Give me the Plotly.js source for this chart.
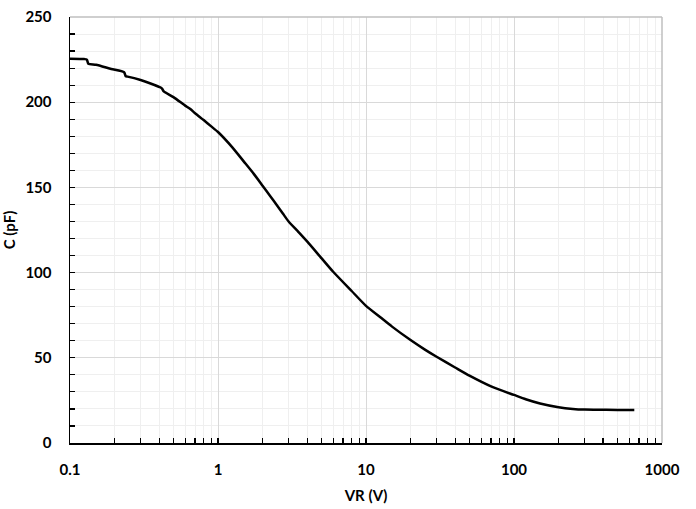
<!DOCTYPE html>
<html>
<head>
<meta charset="utf-8">
<script src="https://cdn.plot.ly/plotly-3.0.1.min.js"></script>
<style>html,body{margin:0;padding:0;background:#fff}#chart{width:696px;height:509px}</style>
</head>
<body>
<div id="chart"></div>
<script>
// Reverse voltage VR (V)
const vr = [0.1, 0.125, 0.13, 0.133, 0.15, 0.19, 0.232, 0.238, 0.245, 0.3, 0.35, 0.41, 0.42, 0.43, 0.5, 0.6, 0.65, 0.7, 0.8, 0.9, 1.0, 1.25, 1.5, 1.75, 2.0, 2.25, 2.5, 2.75, 3.0, 3.5, 4.0, 5.0, 6.0, 8.0, 10, 12.5, 15, 20, 25, 30, 40, 50, 70, 100, 120, 150, 200, 250, 300, 350, 500, 650];
// Capacitance C (pF)
const cap = [225.5, 225.3, 225.0, 222.6, 222.0, 219.5, 217.6, 215.2, 215.0, 213.0, 211.0, 208.6, 207.8, 206.3, 203.0, 198.0, 196.0, 193.5, 189.5, 185.8, 182.5, 173.5, 165.0, 157.8, 151.0, 145.0, 139.5, 134.5, 130.0, 123.8, 118.3, 108.5, 100.5, 89.2, 80.5, 73.8, 68.3, 60.4, 54.8, 50.6, 44.3, 39.5, 33.2, 28.2, 25.7, 23.2, 21.0, 20.0, 19.6, 19.5, 19.4, 19.4];

// Axis tick labels
const xTickVals = [0.1, 1, 10, 100, 1000];
const xTickText = ['0.1', '1', '10', '100', '1000'];
const xMinorVals = [];
for (const d of [0.1, 1, 10, 100]) for (let k = 2; k <= 9; k++) xMinorVals.push(+(d * k).toPrecision(3));

const xTitle = 'VR (V)';
const yTitle = 'C (pF)';

const tickFont = {family: 'Lato, "Open Sans", sans-serif', size: 15, color: '#000', weight: 'bold'};

Plotly.newPlot('chart', [{
  x: vr, y: cap, type: 'scatter', mode: 'lines',
  line: {color: '#000', width: 2.5, shape: 'spline', smoothing: 0.6},
  hoverinfo: 'skip'
}], {
  width: 696, height: 509,
  margin: {l: 70, r: 34, t: 17, b: 66},
  paper_bgcolor: '#fff', plot_bgcolor: '#fff',
  showlegend: false,
  xaxis: {
    type: 'log', range: [-1, 3],
    tickmode: 'array', tickvals: xTickVals, ticktext: xTickText,
    showgrid: true, gridcolor: '#d9d9d9', gridwidth: 1,
    showline: true, linecolor: '#000', linewidth: 1.5,
    ticks: 'inside', ticklen: 5, tickcolor: '#000', tickwidth: 1.2,
    minor: {tickmode: 'array', tickvals: xMinorVals, showgrid: true, gridcolor: '#efefef', gridwidth: 1, ticks: 'inside', ticklen: 5, tickcolor: '#000', tickwidth: 1.2},
    tickfont: tickFont, ticklabelstandoff: 12,
    zeroline: false,
    title: {text: xTitle, font: tickFont, standoff: 14}
  },
  yaxis: {
    range: [0, 250], dtick: 50,
    showgrid: true, gridcolor: '#d9d9d9', gridwidth: 1,
    showline: true, linecolor: '#000', linewidth: 1.5,
    ticks: 'inside', ticklen: 5, tickcolor: '#000', tickwidth: 1.2,
    minor: {dtick: 10, showgrid: true, gridcolor: '#efefef', gridwidth: 1, ticks: 'inside', ticklen: 5, tickcolor: '#000', tickwidth: 1.2},
    tickfont: tickFont, ticklabelstandoff: 14,
    zeroline: false,
    title: {text: yTitle, font: tickFont, standoff: 14}
  },
  shapes: [
    {type: 'line', xref: 'paper', yref: 'paper', x0: 0, x1: 1, y0: 1, y1: 1, line: {color: '#bfbfbf', width: 1.5}},
    {type: 'line', xref: 'paper', yref: 'paper', x0: 1, x1: 1, y0: 0, y1: 1, line: {color: '#bfbfbf', width: 1.5}}
  ]
}, {displayModeBar: false, staticPlot: true});
</script>
</body>
</html>
